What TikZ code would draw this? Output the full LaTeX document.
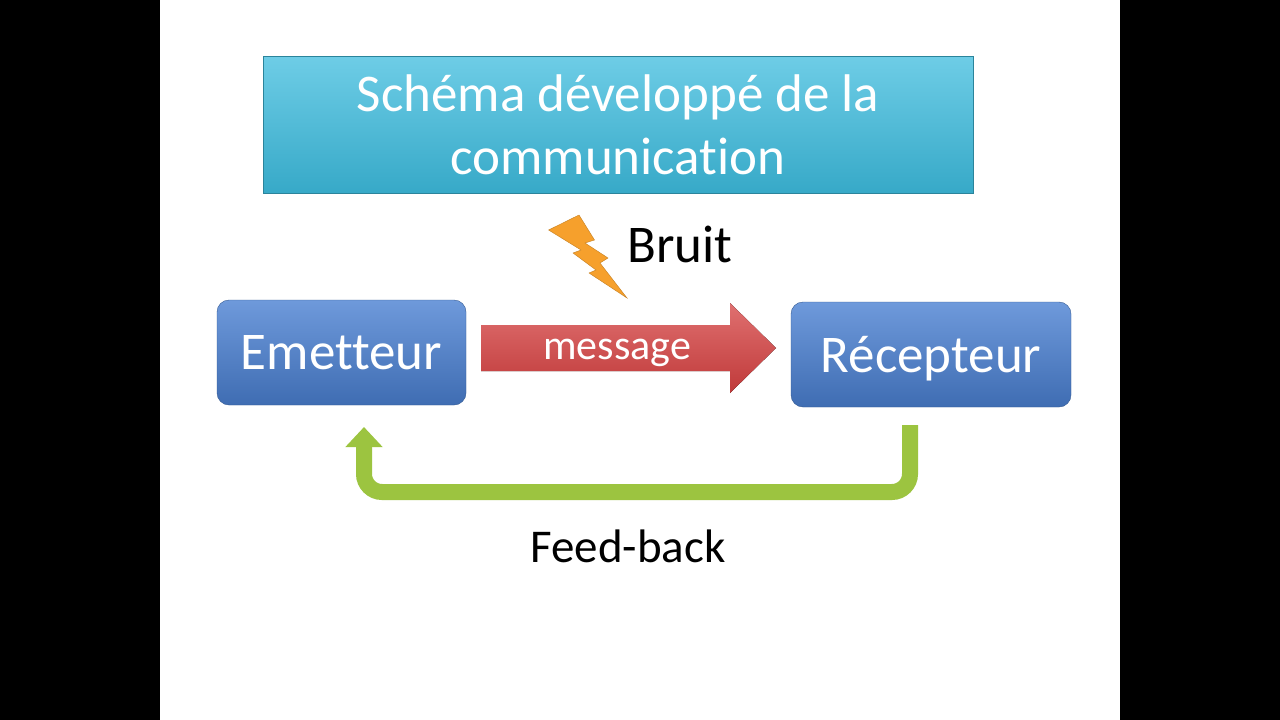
\documentclass[tikz,border=0pt]{standalone}
\usepackage{fontspec}
\setmainfont[Ligatures=NoCommon]{Carlito}
\usetikzlibrary{arrows.meta}
\definecolor{titlecyan}{HTML}{3DBCDE}
\definecolor{boxblue}{HTML}{4A80D2}
\definecolor{msgred}{HTML}{D54040}
\definecolor{fbgreen}{HTML}{9CC440}
\definecolor{boltorange}{HTML}{F6A02C}
\tikzset{
  box/.style={draw=boxblue!70!black, rounded corners=12pt, top color=boxblue!80!white, bottom color=boxblue!85!black, text=white, font=\fontsize{53}{60}\selectfont, inner sep=0pt, text depth=0pt},
  label/.style={font=\fontsize{53}{60}\selectfont}
}
\begin{document}
\begin{tikzpicture}[x=1pt,y=-1pt]
    \fill[black] (0,0) rectangle (1280,720);
    \fill[white] (160,0) rectangle (1120,720);
    % title
    \node[draw=titlecyan!70!black, top color=titlecyan!75!white, bottom color=titlecyan!90!black, minimum width=710pt, minimum height=137pt, text=white, align=center, font=\fontsize{53}{63}\selectfont] (title) at (618,124.5) {Schéma développé de la\\communication};
    % sender and receiver
    \node[box, minimum width=249pt, minimum height=105pt] (emet) at (341.5,352.5) {Emetteur};
    \node[box, minimum width=280pt, minimum height=105pt] (recep) at (931,354.5) {Récepteur};
    % message arrow
    \fill[top color=msgred!75!white, bottom color=msgred!90!black] (481,325) -- (730,325) -- (730,303) -- (776,348) -- (730,393) -- (730,371) -- (481,371) -- cycle;
    \node[text=white, font=\fontsize{42}{48}\selectfont] (msg) at (617,353) {message};
    % noise
    \fill[boltorange, draw=boltorange!80!black] (548.6,230) -- (579,215) -- (594.5,240) -- (585,243) -- (608,258) -- (600,263) -- (627,298) -- (589,273) -- (596,270) -- (573,253) -- (581,250) -- cycle;
    \node[label, anchor=west] (bruit) at (624,244) {Bruit};
    % feedback
    \coordinate (fbstart) at (910,425);
    \coordinate (fbend) at (364,427);
    \draw[fbgreen, line width=16pt, rounded corners=18pt, -{Triangle[width=36pt,length=20pt]}] (fbstart) -- (910,492) -- (364,492) -- (fbend);
    \node[label, font=\fontsize{47}{54}\selectfont] (fb) at (628,546) {Feed-back};
\end{tikzpicture}
\end{document}
